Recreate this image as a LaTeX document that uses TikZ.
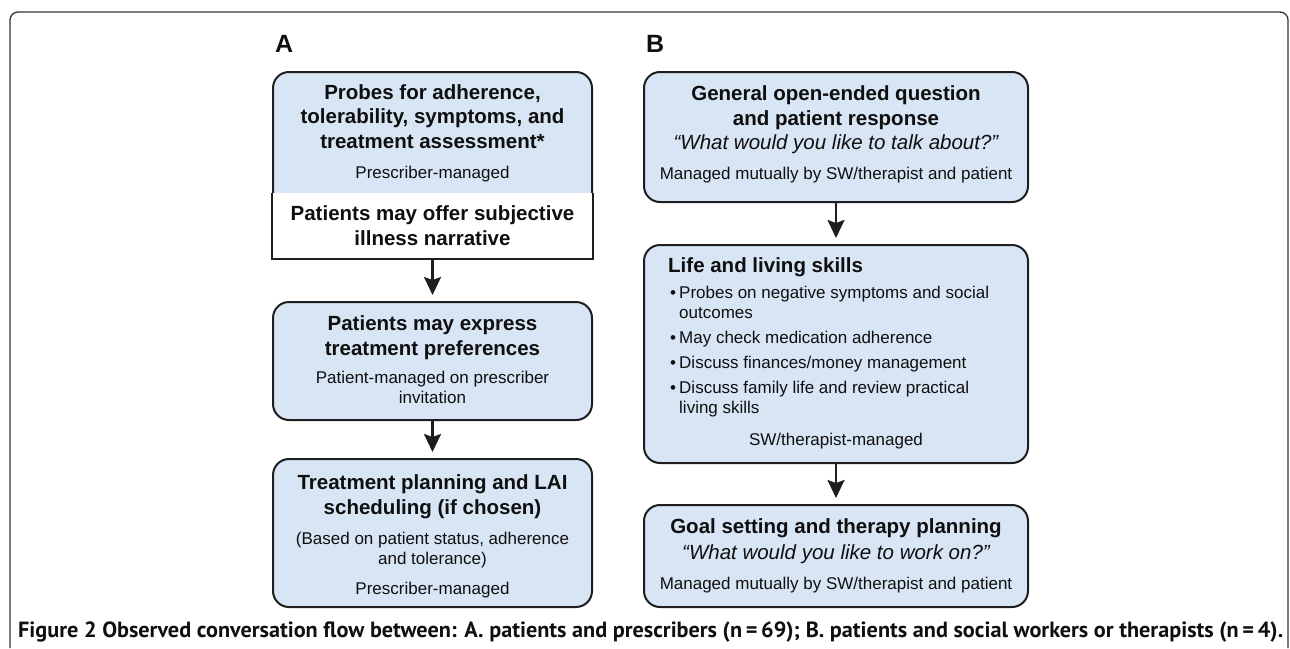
\documentclass[tikz,border=0pt]{standalone}
\usepackage{fontspec}
\setmainfont{Liberation Sans}
\newfontfamily\capfont{PT Sans}
\usetikzlibrary{arrows.meta}
\definecolor{boxblue}{RGB}{215,229,245}
\definecolor{linec}{RGB}{30,30,30}
\definecolor{framec}{RGB}{50,50,50}
\definecolor{txtc}{RGB}{15,15,15}
\tikzset{
  flowbox/.style={draw=linec, line width=2pt, fill=boxblue, rounded corners=16pt, inner sep=0pt, minimum width=#1},
  flowbox/.default=319pt,
  ttl/.style={font=\fontsize{20.5}{24.5}\selectfont\bfseries, text=txtc, align=center, inner sep=0pt, anchor=base},
  qte/.style={font=\fontsize{20.5}{24.5}\selectfont\itshape, text=txtc, align=center, inner sep=0pt, anchor=base},
  sub/.style={font=\fontsize{17}{19.5}\selectfont, text=txtc, align=center, inner sep=0pt, anchor=base},
  bul/.style={font=\fontsize{17}{20}\selectfont, text=txtc, align=left, inner sep=0pt, anchor=base west},
  lbl/.style={font=\fontsize{25}{28}\selectfont\bfseries, text=txtc, inner sep=0pt, anchor=base west},
  arr/.style={draw=linec, line width=2.2pt, -{Stealth[length=18pt,width=17pt,inset=3pt]}, shorten >=6pt}
}
\begin{document}
\begin{tikzpicture}[x=1pt,y=-1pt]
\useasboundingbox (0,0) rectangle (1290,648);
% outer frame
\draw[framec, line width=1.3pt, rounded corners=8pt] (10,648) -- (10,12) -- (1288,12) -- (1288,648);

% panel labels
\node[lbl] (labA) at (275,52) {A};
\node[lbl] (labB) at (646,52) {B};

% ---- column A boxes
\node[flowbox, minimum height=186pt] (a1) at (432.5,165) {};
\coordinate (a1split) at (432.5,193);
\fill[white] (a1.west |- a1split) rectangle (a1.south east);
\draw[linec, line width=2pt] (a1.west |- a1split) -- (a1.south west) -- (a1.south east) -- (a1.east |- a1split);
\node[flowbox, minimum height=118pt] (a2) at (432.5,361) {};
\node[flowbox, minimum height=148pt] (a3) at (432.5,533) {};

% ---- column B boxes
\node[flowbox=384pt, minimum height=130pt] (b1) at (836,137) {};
\node[flowbox=384pt, minimum height=218pt] (b2) at (836,354) {};
\node[flowbox=384pt, minimum height=102pt] (b3) at (836,556) {};

% ---- arrows
\draw[arr] (a1.south) -- (a2.north);
\draw[arr] (a2.south) -- (a3.north);
\draw[arr] (b1.south) -- (b2.north);
\draw[arr] (b2.south) -- (b3.north);

% ---- texts A (multi-line blocks placed at the baseline of their last line)
\node[ttl] (a1t) at (432.5,148) {Probes for adherence,\\tolerability, symptoms, and\\treatment assessment*};
\node[sub] (a1s) at (432.5,178) {Prescriber-managed};
\node[ttl] (a1n) at (432.5,245) {Patients may offer subjective\\illness narrative};

\node[ttl] (a2t) at (432.5,355) {Patients may express\\treatment preferences};
\node[sub] (a2s) at (432.5,403) {Patient-managed on prescriber\\invitation};

\node[ttl] (a3t) at (432.5,514) {Treatment planning and LAI\\scheduling (if chosen)};
\node[sub] (a3s) at (432.5,564) {(Based on patient status, adherence\\and tolerance)};
\node[sub] (a3m) at (432.5,594) {Prescriber-managed};

% ---- texts B
\node[ttl] (b1t) at (836,125) {General open-ended question\\and patient response};
\node[qte] (b1q) at (836,149) {“What would you like to talk about?”};
\node[sub] (b1s) at (836,179) {Managed mutually by SW/therapist and patient};

\node[ttl, anchor=base west] (b2t) at (668,272) {Life and living skills};
\node[bul] (b2d1) at (670,298) {•};
\node[bul] (b2i1) at (679,318) {Probes on negative symptoms and social\\outcomes};
\node[bul] (b2d2) at (670,343) {•};
\node[bul] (b2i2) at (679,343) {May check medication adherence};
\node[bul] (b2d3) at (670,368) {•};
\node[bul] (b2i3) at (679,368) {Discuss finances/money management};
\node[bul] (b2d4) at (670,393) {•};
\node[bul] (b2i4) at (679,413) {Discuss family life and review practical\\living skills};
\node[sub] (b2s) at (836,445) {SW/therapist-managed};

\node[ttl] (b3t) at (836,533) {Goal setting and therapy planning};
\node[qte] (b3q) at (836,559) {“What would you like to work on?”};
\node[sub] (b3s) at (836,589) {Managed mutually by SW/therapist and patient};

% ---- caption
\node[inner sep=0pt, anchor=base west, text=txtc] (cap) at (18,637) {\resizebox{1265pt}{\height}{\capfont\fontsize{22}{24}\selectfont\bfseries Figure 2 Observed conversation flow between: A. patients and prescribers (n\,=\,69); B. patients and social workers or therapists (n\,=\,4).}};
\end{tikzpicture}
\end{document}
